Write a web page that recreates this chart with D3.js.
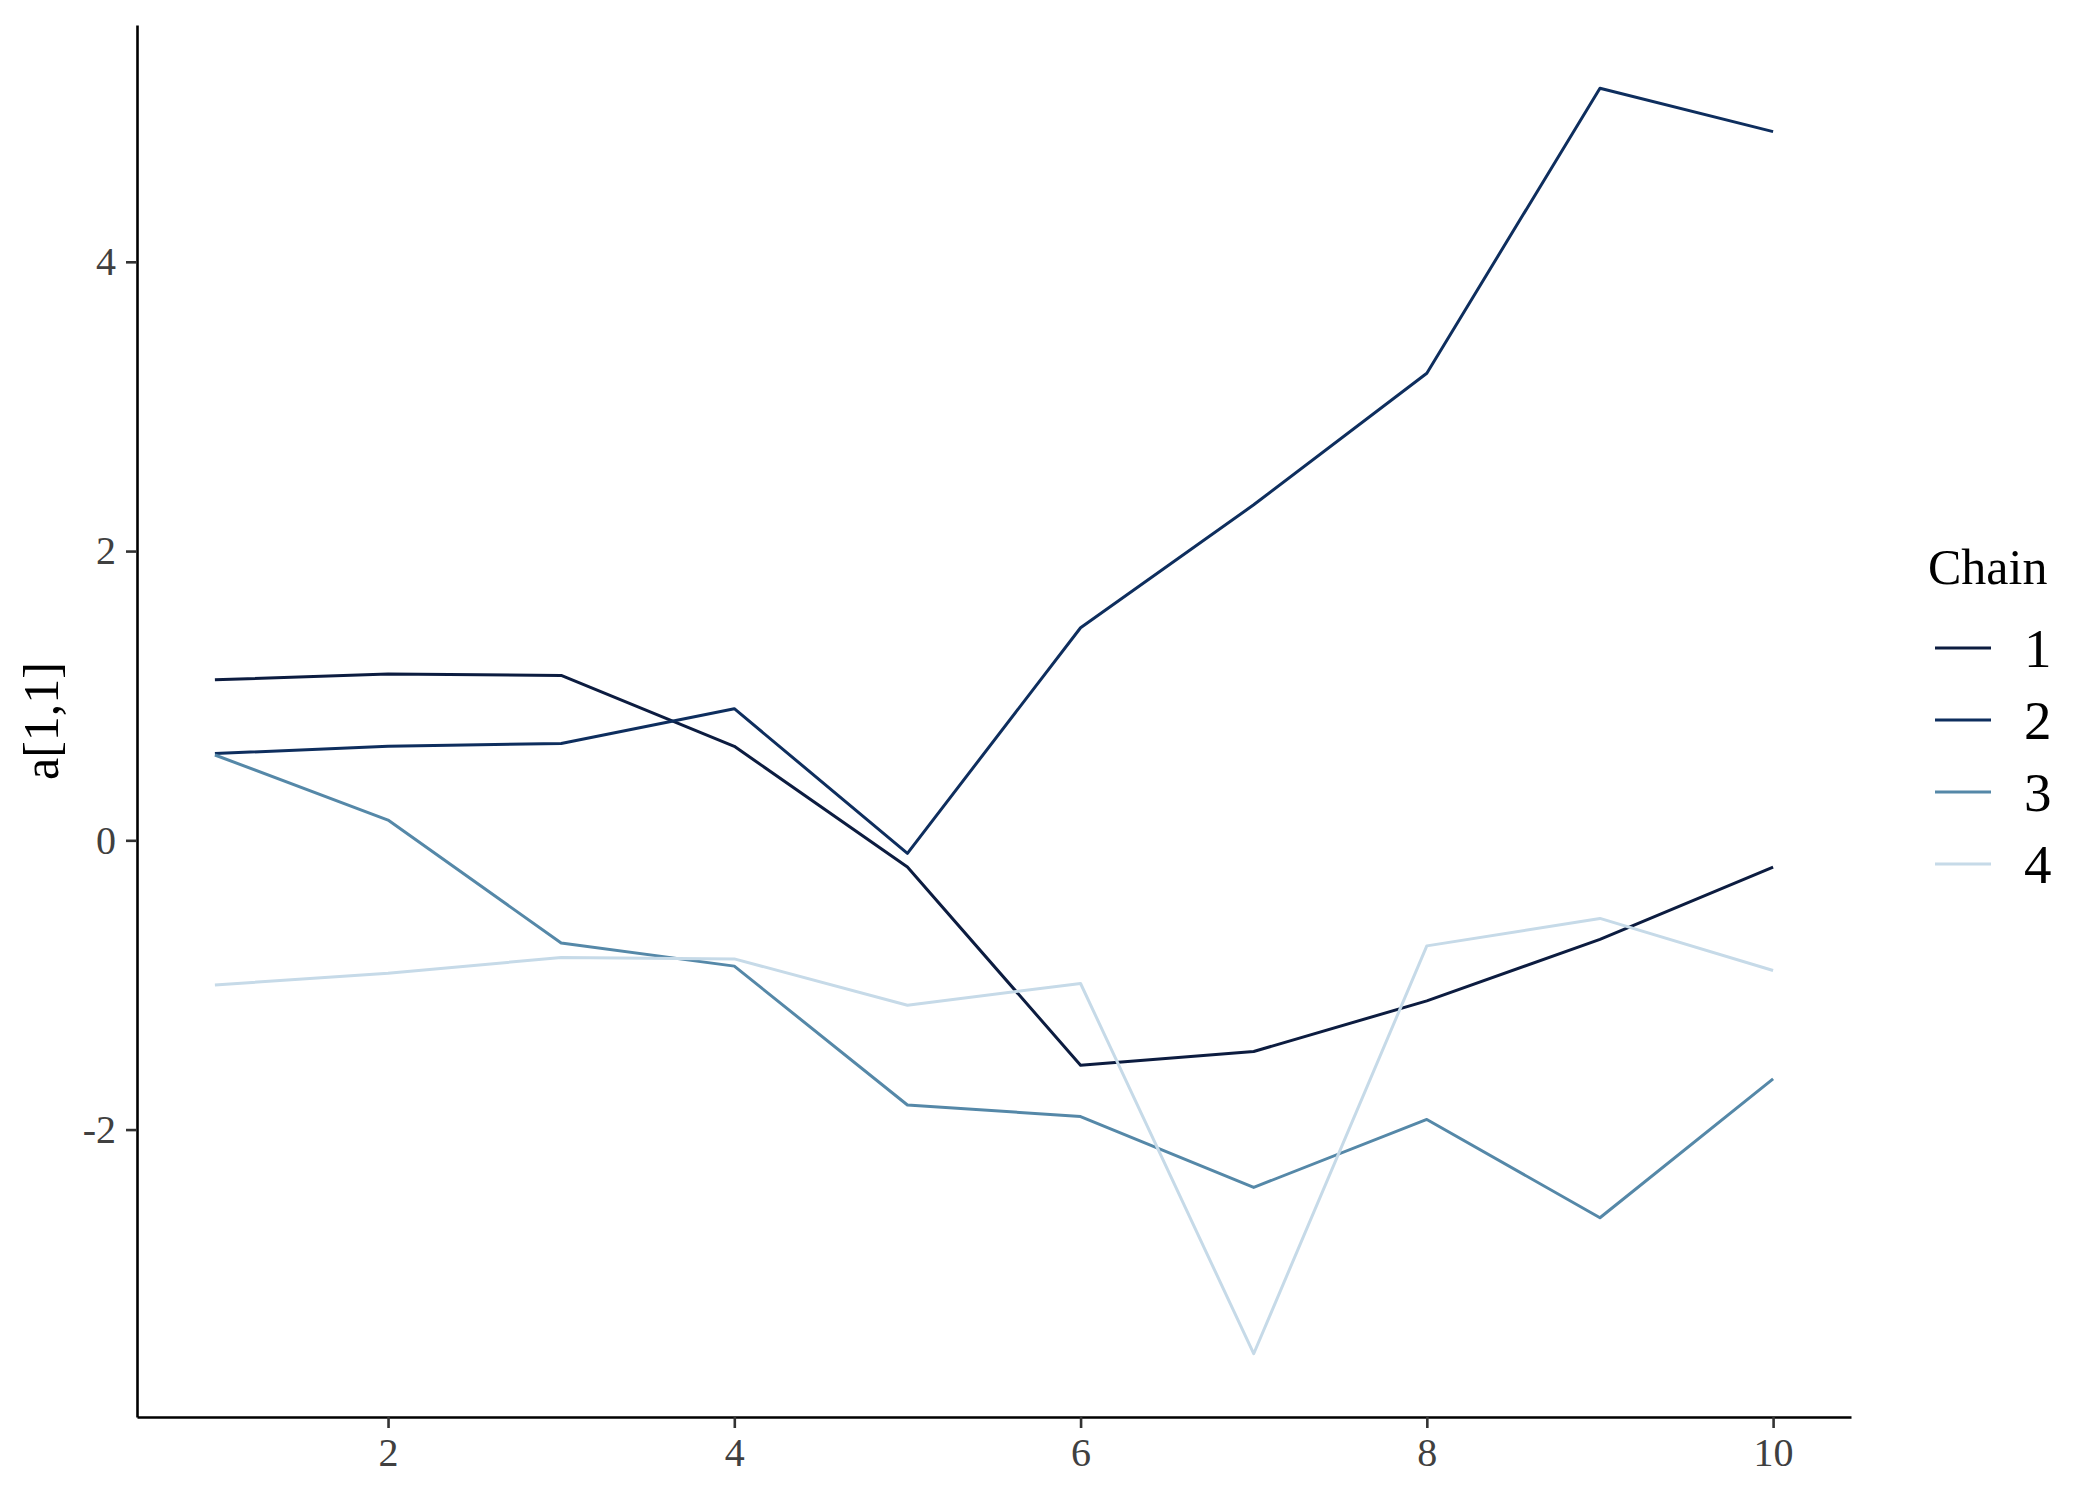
<!DOCTYPE html>
<html>
<head>
<meta charset="utf-8">
<script src="https://cdn.jsdelivr.net/npm/d3@7"></script>
<style>
  body { margin: 0; background: #fff; }
  svg { display: block; font-family: "Liberation Serif", "DejaVu Serif", serif; }
</style>
</head>
<body>
<div id="chart"></div>
<script>
// data
const iterations = [1, 2, 3, 4, 5, 6, 7, 8, 9, 10]
const chain1 = [1.11, 1.15, 1.14, 0.65, -0.185, -1.555, -1.46, -1.11, -0.685, -0.185]
const chain2 = [0.60, 0.65, 0.67, 0.91, -0.09, 1.47, 2.32, 3.23, 5.20, 4.90]
const chain3 = [0.59, 0.14, -0.71, -0.87, -1.83, -1.91, -2.40, -1.93, -2.61, -1.65]
const chain4 = [-1.00, -0.92, -0.81, -0.82, -1.14, -0.99, -3.55, -0.73, -0.54, -0.90]
const chainNames = ["1", "2", "3", "4"]
const chainColors = ["#0c1c40", "#0e2e5e", "#5588a8", "#c6dae8"]
const xTicks = [2, 4, 6, 8, 10]
const yTicks = [-2, 0, 2, 4]
const yLabel = "a[1,1]"
const legendTitle = "Chain"

const series = [chain1, chain2, chain3, chain4].map((vals, i) => ({
  key: chainNames[i],
  color: chainColors[i],
  values: vals.map((v, j) => ({ x: iterations[j], y: v }))
}))

// dimensions
let width = 2100
let height = 1500
let margin = { top: 25, right: 249, bottom: 83, left: 137 }

let svg = d3.select("#chart").append("svg")
  .attr("width", width)
  .attr("height", height)

// scales, ggplot style 5% expansion
let allY = series.flatMap(s => s.values.map(d => d.y))
let yMin = d3.min(allY), yMax = d3.max(allY)
let yPad = (yMax - yMin) * 0.05
let xPad = (d3.max(iterations) - d3.min(iterations)) * 0.05

let x = d3.scaleLinear()
  .domain([d3.min(iterations) - xPad, d3.max(iterations) + xPad])
  .range([margin.left, width - margin.right])
let y = d3.scaleLinear()
  .domain([yMin - yPad, yMax + yPad])
  .range([height - margin.bottom, margin.top])

// axes
function xAxis(g) {
  g.call(d3.axisBottom(x).tickValues(xTicks).tickSizeOuter(0).tickSizeInner(11).tickPadding(10).tickFormat(d3.format("d")))
  g.select(".domain").attr("stroke", "#000").attr("stroke-width", 2.6)
  g.selectAll(".tick line").attr("stroke", "#333").attr("stroke-width", 2.6)
  g.selectAll(".tick text")
    .attr("fill", "#404040")
    .attr("font-size", 40)
    .attr("font-family", "Liberation Serif, serif")
}

function yAxis(g) {
  g.call(d3.axisLeft(y).tickValues(yTicks).tickSizeOuter(0).tickSizeInner(11).tickPadding(10).tickFormat(d => d < 0 ? "-" + Math.abs(d) : d))
  g.select(".domain").attr("stroke", "#000").attr("stroke-width", 2.6)
  g.selectAll(".tick line").attr("stroke", "#333").attr("stroke-width", 2.6)
  g.selectAll(".tick text")
    .attr("fill", "#404040")
    .attr("font-size", 40)
    .attr("font-family", "Liberation Serif, serif")
}

// trace lines
let line = d3.line()
  .x(d => x(d.x))
  .y(d => y(d.y))

svg.append("g")
  .selectAll("path")
  .data(series)
  .enter()
  .append("path")
  .attr("d", d => line(d.values))
  .attr("fill", "none")
  .attr("stroke", d => d.color)
  .attr("stroke-width", 3)
  .attr("stroke-linejoin", "round")

svg.append("g")
  .attr("class", "x axis")
  .attr("transform", "translate(0," + (height - margin.bottom) + ")")
  .call(xAxis)

svg.append("g")
  .attr("class", "y axis")
  .attr("transform", "translate(" + margin.left + ",0)")
  .call(yAxis)

// y title
svg.append("text")
  .attr("transform", "translate(58," + ((margin.top + height - margin.bottom) / 2) + ") rotate(-90)")
  .attr("text-anchor", "middle")
  .attr("font-size", 50)
  .attr("fill", "#000")
  .text(yLabel)

// legend
let legend = svg.append("g")
  .attr("transform", "translate(1928,0)")

legend.append("text")
  .attr("x", 0)
  .attr("y", 584)
  .attr("font-size", 50)
  .attr("fill", "#000")
  .text(legendTitle)

let rowY = d3.scalePoint().domain(chainNames).range([648, 864])

let rows = legend.selectAll(".key")
  .data(series)
  .enter()
  .append("g")
  .attr("class", "key")
  .attr("transform", d => "translate(0," + rowY(d.key) + ")")

rows.append("line")
  .attr("x1", 7)
  .attr("x2", 63)
  .attr("stroke", d => d.color)
  .attr("stroke-width", 3)

rows.append("text")
  .attr("x", 96)
  .attr("dy", "0.35em")
  .attr("font-size", 55)
  .attr("fill", "#000")
  .text(d => d.key)
</script>
</body>
</html>
